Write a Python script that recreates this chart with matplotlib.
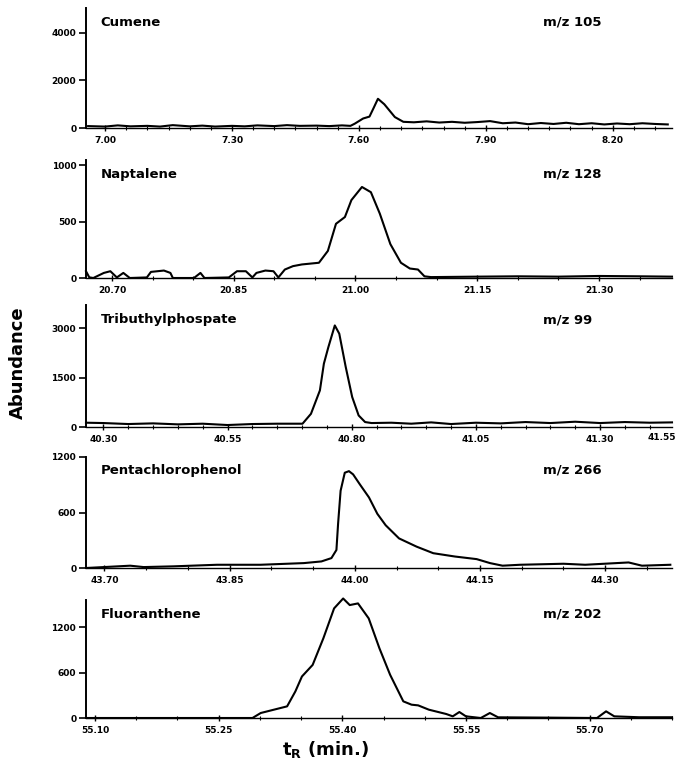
import matplotlib
matplotlib.use("Agg")
import matplotlib.pyplot as plt
from matplotlib.ticker import MultipleLocator

# retention time (min) / abundance
cumene_t = [6.96, 7.00, 7.03, 7.06, 7.10, 7.13, 7.16, 7.20, 7.23, 7.26, 7.30, 7.33, 7.36,
            7.40, 7.43, 7.46, 7.50, 7.53, 7.56, 7.58, 7.59, 7.61, 7.625, 7.635, 7.645,
            7.66, 7.685, 7.705, 7.73, 7.76, 7.79, 7.82, 7.85, 7.88, 7.91, 7.94, 7.97,
            8.00, 8.03, 8.06, 8.09, 8.12, 8.15, 8.18, 8.21, 8.24, 8.27, 8.30, 8.33]
cumene_y = [80, 60, 110, 70, 90, 60, 120, 70, 100, 60, 90, 70, 110,
            80, 120, 90, 100, 80, 110, 90, 180, 400, 480, 850, 1230,
            1000, 460, 260, 240, 280, 230, 260, 220, 250, 290, 200, 230,
            160, 210, 170, 220, 160, 200, 150, 190, 160, 200, 170, 150]

napt_t = [20.668, 20.672, 20.677, 20.690, 20.698, 20.706, 20.714, 20.722, 20.743, 20.748,
          20.764, 20.772, 20.775, 20.801, 20.809, 20.814, 20.844, 20.854, 20.865, 20.873,
          20.878, 20.889, 20.899, 20.905, 20.913, 20.923, 20.934, 20.955, 20.966, 20.976,
          20.987, 20.995, 21.008, 21.019, 21.030, 21.043, 21.056, 21.067, 21.077, 21.085,
          21.093, 21.15, 21.20, 21.25, 21.30, 21.35, 21.39]
napt_y = [60, 6, 0, 45, 60, 5, 45, 0,
          5, 54, 66, 45, 0, 0, 45, 0, 5, 60, 60, 5,
          45, 66, 60, 5, 75, 105, 120, 135, 240, 480,
          540, 690, 806, 760, 570, 300, 135, 84, 75, 15,
          8, 12, 15, 12, 18, 15, 12]

tbp_t = [40.265, 40.30, 40.35, 40.40, 40.45, 40.50, 40.55, 40.60, 40.65, 40.701, 40.718,
         40.736, 40.744, 40.753, 40.766, 40.775, 40.788, 40.801, 40.814, 40.827, 40.840,
         40.88, 40.92, 40.96, 41.00, 41.05, 41.10, 41.15, 41.20, 41.25, 41.30, 41.35,
         41.40, 41.445]
tbp_y = [130, 120, 90, 110, 80, 100, 60, 90, 100, 100, 400,
         1110, 1920, 2420, 3080, 2830, 1820, 910, 350, 150, 120,
         130, 100, 140, 90, 130, 110, 150, 120, 160, 120, 150,
         130, 140]

pcp_t = [43.678, 43.731, 43.747, 43.783, 43.835, 43.887, 43.939, 43.960, 43.972, 43.978,
         43.980, 43.983, 43.988, 43.993, 43.998, 44.006, 44.017, 44.027, 44.037, 44.053,
         44.074, 44.094, 44.120, 44.146, 44.162, 44.177, 44.198, 44.250, 44.276, 44.328,
         44.344, 44.378]
pcp_y = [0, 25, 10, 18, 35, 35, 53, 71, 107, 195,
         480, 835, 1030, 1047, 1012, 905, 763, 586, 462, 320,
         231, 160, 124, 96, 53, 25, 35, 46, 35, 60,
         25, 35]

fluo_t = [55.09, 55.20, 55.291, 55.301, 55.317, 55.333, 55.343, 55.351, 55.364, 55.377,
          55.390, 55.401, 55.409, 55.419, 55.432, 55.445, 55.458, 55.474, 55.484, 55.492,
          55.505, 55.526, 55.534, 55.542, 55.550, 55.568, 55.579, 55.589, 55.65, 55.709,
          55.720, 55.730, 55.76, 55.80]
fluo_y = [0, 0, 0, 66, 110, 154, 351, 549, 702, 1054,
          1449, 1580, 1493, 1515, 1317, 922, 571, 220, 176, 167,
          110, 53, 22, 79, 22, 0, 66, 9, 5, 0,
          88, 22, 10, 10]

names = ["Cumene", "Naptalene", "Tributhylphospate", "Pentachlorophenol", "Fluoranthene"]
mz = ["m/z 105", "m/z 128", "m/z 99", "m/z 266", "m/z 202"]
xticks = [[7.00, 7.30, 7.60, 7.90, 8.20],
          [20.70, 20.85, 21.00, 21.15, 21.30],
          [40.30, 40.55, 40.80, 41.05, 41.30],
          [43.70, 43.85, 44.00, 44.15, 44.30],
          [55.10, 55.25, 55.40, 55.55, 55.70]]
yticks = [[0, 2000, 4000], [0, 500, 1000], [0, 1500, 3000], [0, 600, 1200], [0, 600, 1200]]
xlims = [(6.955, 8.34), (20.668, 21.39), (40.265, 41.445), (43.678, 44.38), (55.089, 55.80)]
ylims = [5050, 1045, 3700, 1200, 1560]
traces = [(cumene_t, cumene_y), (napt_t, napt_y), (tbp_t, tbp_y), (pcp_t, pcp_y), (fluo_t, fluo_y)]

W, H = 677, 764
# (top, zero line) in pixels
rows = [(8, 128), (160, 278), (305, 427), (457, 568), (600, 718)]
left, right = 86, 672

fig = plt.figure(figsize=(W / 100, H / 100), dpi=100)
for i in range(5):
    top, bot = rows[i]
    ax = fig.add_axes([left / W, 1 - bot / H, (right - left) / W, (bot - top) / H])
    t, y = traces[i]
    ax.plot(t, y, color="black", lw=1.5, clip_on=False, solid_joinstyle="round")
    ax.set_xlim(xlims[i])
    ax.set_ylim(0, ylims[i])
    ax.set_xticks(xticks[i])
    ax.set_xticklabels(["%.2f" % v for v in xticks[i]])
    ax.xaxis.set_minor_locator(MultipleLocator(0.05))
    ax.set_yticks(yticks[i])
    for s in ["top", "right"]:
        ax.spines[s].set_visible(False)
    ax.spines["left"].set_linewidth(1.4)
    ax.spines["bottom"].set_linewidth(1.0)
    ax.tick_params(axis="y", direction="out", length=5, width=1.2, labelsize=6.5, pad=2)
    ax.tick_params(axis="x", which="major", direction="inout", length=5, width=1.0,
                   labelsize=6.5, pad=3)
    ax.tick_params(axis="x", which="minor", direction="inout", length=3, width=0.8)
    for lab in ax.get_xticklabels() + ax.get_yticklabels():
        lab.set_fontweight("bold")
    ax.text(0.025, 0.88, names[i], transform=ax.transAxes, fontsize=9.5,
            fontweight="bold", va="center")
    ax.text(0.78, 0.88, mz[i], transform=ax.transAxes, fontsize=9.5,
            fontweight="bold", va="center")
    ax.patch.set_alpha(0)

# the last TBP label sits squeezed at the right edge
fig.text(676 / W, 1 - 437 / H, "41.55", fontsize=6.5, fontweight="bold",
         ha="right", va="center")

fig.text(18 / W, 1 - 363 / H, "Abundance", rotation=90, fontsize=13,
         fontweight="semibold", ha="center", va="center")
fig.text(325 / W, 1 - 750 / H, r"$\mathregular{t_R}$ (min.)", fontsize=13,
         fontweight="semibold", ha="center", va="center")

plt.savefig("out.png", dpi=100)
